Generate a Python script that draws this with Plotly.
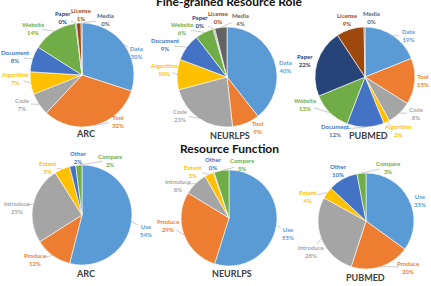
import math
import plotly.graph_objects as go

W, H = 431, 286

datasets = ["ARC", "NEURLPS", "PUBMED"]

role_labels = ["Data", "Tool", "Code", "Algorithm", "Document", "Website", "Paper", "License", "Media"]
role_arc = [30, 32, 7, 7, 8, 14, 0.3, 1.4, 0.3]
role_neurlps = [40, 9, 23, 10, 9, 6, 0.3, 0.3, 4]
role_pubmed = [19, 15, 8, 2, 12, 13, 22, 9, 0.3]

func_labels = ["Use", "Produce", "Introduce", "Extent", "Other", "Compare"]
func_arc = [54, 12, 25, 5, 2, 2]
func_neurlps = [55, 29, 8, 3, 0.3, 5]
func_pubmed = [35, 20, 28, 4, 10, 3]

role_colors = ["#5B9BD5", "#ED7D31", "#A5A5A5", "#FFC000", "#4472C4",
               "#70AD47", "#264478", "#9E480E", "#636363"]
func_colors = ["#5B9BD5", "#ED7D31", "#A5A5A5", "#FFC000", "#4472C4", "#70AD47"]

# ---- layout (pixel positions, from top-left) ----
top_geom = [(82, 75, 52), (227, 77, 50), (365, 77, 50)]
bot_geom = [(82, 215, 50), (229, 218, 48), (366, 221, 48)]
top_name_pos = [(85, 133), (230, 135), (368, 135)]
bot_name_pos = [(85, 273), (232, 273), (365, 277)]

top_label_pos = [
    [(136, 52), (118, 121), (22, 104), (15, 78), (15, 57), (33, 28), (63, 17), (81, 14), (105, 20)],
    [(285, 66), (258, 127), (180, 115), (164, 69), (165, 45), (182, 29), (200, 22), (219, 18), (240, 19)],
    [(408, 36), (423, 80), (416, 113), (398, 130), (335, 130), (305, 105), (305, 60), (347, 20), (371, 18)],
]
bot_label_pos = [
    [(146, 230), (35, 259), (17, 207), (48, 167), (78, 158), (111, 160)],
    [(288, 233), (168, 225), (178, 185), (193, 171), (213, 163), (243, 165)],
    [(420, 200), (408, 267), (311, 251), (308, 196), (338, 170), (388, 167)],
]

FONT = "Lato"


def px(x):
    return x / W


def py(y):
    return 1 - y / H


def domain(cx, cy, r):
    return dict(x=[px(cx - r), px(cx + r)], y=[py(cy + r), py(cy - r)])


fig = go.Figure()
annotations = []
shapes = []


def add_pie(labels, values, colors, geom, label_pos):
    cx, cy, r = geom
    fig.add_trace(go.Pie(
        labels=labels, values=values, sort=False, direction="clockwise",
        rotation=0, domain=domain(cx, cy, r),
        marker=dict(colors=colors, line=dict(color="white", width=0.6)),
        textinfo="none", showlegend=False, hoverinfo="label+value",
    ))
    total = sum(values)
    cum = 0.0
    for lab, v, c, (lx, ly) in zip(labels, values, colors, label_pos):
        mid = (cum + v / 2) / total * 2 * math.pi
        cum += v
        ex = cx + r * math.sin(mid)
        ey = cy - r * math.cos(mid)
        annotations.append(dict(
            text="<b>%s</b><br><b>%d%%</b>" % (lab, round(v)),
            x=px(lx), y=py(ly), font=dict(size=6, color=c, family=FONT),
        ))
        dx, dy = lx - ex, ly - ey
        dist = math.hypot(dx, dy)
        if dist > 13:
            k = max(0.0, 1 - 9 / dist)
            shapes.append(dict(type="line", xref="paper", yref="paper",
                               x0=px(ex), y0=py(ey),
                               x1=px(ex + dx * k), y1=py(ey + dy * k),
                               line=dict(color="#A6A6A6", width=0.6)))


for vals, g, lp in zip([role_arc, role_neurlps, role_pubmed], top_geom, top_label_pos):
    add_pie(role_labels, vals, role_colors, g, lp)
for vals, g, lp in zip([func_arc, func_neurlps, func_pubmed], bot_geom, bot_label_pos):
    add_pie(func_labels, vals, func_colors, g, lp)

annotations += [
    dict(text="<b>Fine-grained Resource Role</b>", x=px(229), y=py(1.5),
         font=dict(size=12, color="#111111", family=FONT)),
    dict(text="<b>Resource Function</b>", x=px(229), y=py(148),
         font=dict(size=12, color="#111111", family=FONT)),
]
for name, (x, y) in zip(datasets, top_name_pos):
    annotations.append(dict(text="<b>" + name + "</b>", x=px(x), y=py(y),
                            font=dict(size=9, color="#404040", family=FONT)))
for name, (x, y) in zip(datasets, bot_name_pos):
    annotations.append(dict(text="<b>" + name + "</b>", x=px(x), y=py(y),
                            font=dict(size=9, color="#404040", family=FONT)))
for a in annotations:
    a.update(xref="paper", yref="paper", showarrow=False,
             xanchor="center", yanchor="middle")

fig.update_layout(width=W, height=H,
                  margin=dict(l=0, r=0, t=0, b=0, autoexpand=False),
                  paper_bgcolor="white", plot_bgcolor="white",
                  annotations=annotations, shapes=shapes, font=dict(family=FONT))

fig.write_html("out.html")
